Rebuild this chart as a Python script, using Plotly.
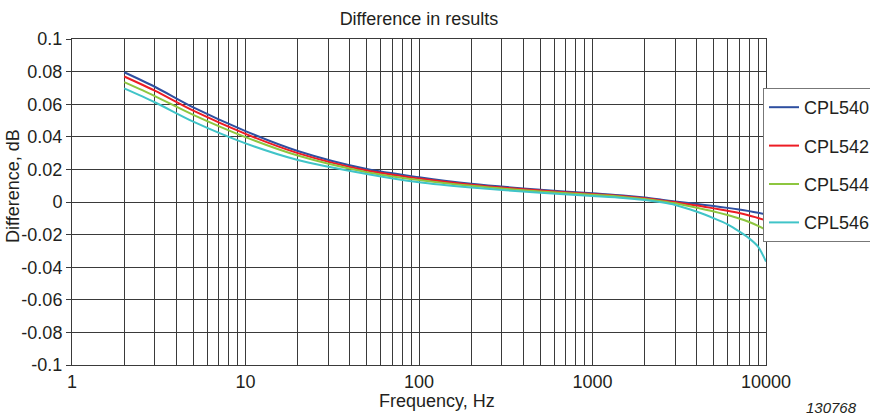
import plotly.graph_objects as go

freq = [2, 3, 5, 10, 20, 50, 100, 200, 500, 1000, 1500, 2000, 2500, 3000, 4000, 5000, 6000, 7000, 8000, 9000, 10000]
cpl540 = [0.0796, 0.0707, 0.0580, 0.0435, 0.0313, 0.0202, 0.0152, 0.0112, 0.0075, 0.0053, 0.0040, 0.0027, 0.0014, 0.0003, -0.0012, -0.0025, -0.0036, -0.0046, -0.0056, -0.0066, -0.0076]
cpl542 = [0.0770, 0.0683, 0.0560, 0.0418, 0.0300, 0.0193, 0.0144, 0.0106, 0.0070, 0.0049, 0.0036, 0.0023, 0.0010, -0.0002, -0.0021, -0.0039, -0.0054, -0.0068, -0.0083, -0.0098, -0.0112]
cpl544 = [0.0735, 0.0650, 0.0535, 0.0398, 0.0285, 0.0183, 0.0135, 0.0099, 0.0064, 0.0044, 0.0031, 0.0018, 0.0005, -0.0008, -0.0035, -0.0058, -0.0080, -0.0101, -0.0123, -0.0147, -0.0172]
cpl546 = [0.0697, 0.0612, 0.0493, 0.0360, 0.0258, 0.0172, 0.0121, 0.0089, 0.0057, 0.0037, 0.0025, 0.0012, -0.0002, -0.0018, -0.0060, -0.0100, -0.0137, -0.0180, -0.0223, -0.0274, -0.0365]

series_names = ["CPL540", "CPL542", "CPL544", "CPL546"]
series_values = [cpl540, cpl542, cpl544, cpl546]
series_colors = ["#2e4fa0", "#ed1c24", "#8dc63f", "#40c4c8"]

x_decades = [1, 10, 100, 1000, 10000]
x_grid = [m * d for d in [1, 10, 100, 1000] for m in range(1, 10)] + [10000]
x_text = [str(v) if v in x_decades else "" for v in x_grid]

y_ticks = [0.1, 0.08, 0.06, 0.04, 0.02, 0, -0.02, -0.04, -0.06, -0.08, -0.1]
y_text = ["0.1", "0.08", "0.06", "0.04", "0.02", "0", "-0.02", "-0.04", "-0.06", "-0.08", "-0.1"]

FONT = "Liberation Sans, Arial, sans-serif"
FS = 18

fig = go.Figure()
for name, vals, col in zip(series_names, series_values, series_colors):
    fig.add_trace(go.Scatter(
        x=freq, y=vals, name=name, mode="lines",
        line=dict(color=col, width=2, shape="spline", smoothing=0.8),
        legendgroup=name,
    ))

fig.update_layout(
    width=870, height=416,
    margin=dict(l=72, r=104, t=39, b=51, autoexpand=False),
    paper_bgcolor="white", plot_bgcolor="white",
    font=dict(family=FONT, size=FS, color="#231f20"),
    title=dict(text="Difference in results", x=(72 + 766) / 2 / 870, xanchor="center",
               y=1 - 19 / 416, yanchor="middle", font=dict(size=FS)),
    showlegend=True,
    legend=dict(
        x=0.9957, xanchor="left", y=1 - (88 - 39) / 326, yanchor="top",
        bgcolor="white", bordercolor="#777", borderwidth=1,
        font=dict(size=FS), itemwidth=30, tracegroupgap=12, traceorder="grouped",
    ),
)

fig.update_xaxes(
    type="log", range=[0, 4],
    tickvals=x_grid, ticktext=x_text, ticks="",
    showgrid=True, gridcolor="#3a3a3a", gridwidth=1,
    showline=True, linecolor="#3a3a3a", linewidth=1, mirror=True,
    zeroline=False,
    tickfont=dict(size=FS),
)
fig.update_yaxes(
    range=[-0.1, 0.1],
    tickvals=y_ticks, ticktext=y_text,
    ticks="outside", ticklen=5, tickcolor="#3a3a3a",
    showgrid=True, gridcolor="#3a3a3a", gridwidth=1,
    showline=True, linecolor="#3a3a3a", linewidth=1, mirror=True,
    zeroline=False,
    tickfont=dict(size=FS),
)

fig.add_annotation(
    text="Frequency, Hz", showarrow=False,
    xref="paper", yref="paper",
    x=(437 - 72) / 694, y=-(401 - 365) / 326, xanchor="center", yanchor="middle",
    font=dict(size=FS),
)
fig.add_annotation(
    text="Difference, dB", textangle=-90, showarrow=False,
    xref="paper", yref="paper",
    x=-(72 - 13) / 694, y=(365 - 186) / 326, xanchor="center", yanchor="middle",
    font=dict(size=FS),
)
fig.add_annotation(
    text="<i>130768</i>", showarrow=False,
    xref="paper", yref="paper",
    x=(831 - 72) / 694, y=-(407 - 365) / 326, xanchor="center", yanchor="middle",
    font=dict(size=15),
)

fig.write_html("out.html")
